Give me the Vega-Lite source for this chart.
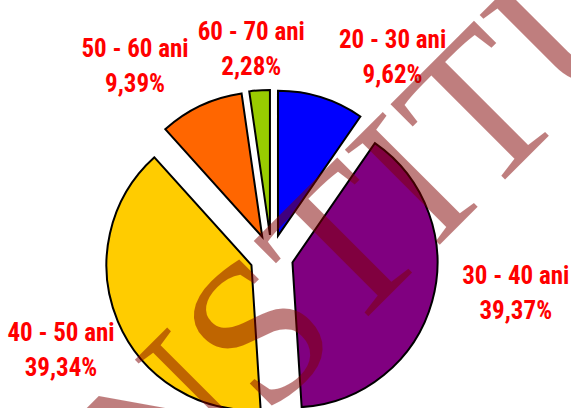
{
  "$schema": "https://vega.github.io/schema/vega-lite/v6.json",
  "width": 543,
  "height": 290,
  "autosize": {"type": "none"},
  "padding": {"left": 0, "top": 111.6, "right": 28, "bottom": 6.4},
  "background": "white",
  "config": {"view": {"stroke": null}},
  "datasets": {
    "ages": [
      {"group": "20 - 30 ani", "pct": 9.62},
      {"group": "30 - 40 ani", "pct": 39.37},
      {"group": "40 - 50 ani", "pct": 39.34},
      {"group": "50 - 60 ani", "pct": 9.39},
      {"group": "60 - 70 ani", "pct": 2.28}
    ]
  },
  "layer": [
    {
      "data": {"name": "ages"},
      "mark": {
        "type": "arc",
        "stroke": "black",
        "strokeWidth": 2,
        "strokeJoin": "miter",
        "xOffset": {"expr": "0.15*min(width,height)/2*sin(scale('theta',(datum.pct_start+datum.pct_end)/2))"},
        "yOffset": {"expr": "-0.15*min(width,height)/2*cos(scale('theta',(datum.pct_start+datum.pct_end)/2))"}
      },
      "encoding": {
        "theta": {"field": "pct", "type": "quantitative", "stack": true},
        "order": {"field": "group", "sort": "ascending"},
        "color": {
          "field": "group",
          "type": "nominal",
          "scale": {
            "domain": ["20 - 30 ani", "30 - 40 ani", "40 - 50 ani", "50 - 60 ani", "60 - 70 ani"],
            "range": ["#0000FF", "#800080", "#FFCC00", "#FF6600", "#99CC00"]
          },
          "legend": null
        }
      }
    },
    {
      "data": {"name": "ages"},
      "transform": [
        {"calculate": "[datum.group, replace(format(datum.pct, '.2f'), '.', ',') + '%']", "as": "label"}
      ],
      "mark": {
        "type": "text",
        "radius": 185,
        "font": "Roboto Condensed, Noto Sans Condensed, Liberation Sans Narrow, Arial Narrow, DejaVu Sans Condensed, sans-serif",
        "fontSize": 25,
        "fontWeight": "bold",
        "fill": "#FF0000",
        "lineHeight": 35,
        "align": "center",
        "baseline": "middle",
        "dx": {"expr": "sin(scale('theta',(datum.pct_start+datum.pct_end)/2)) > 0.25 ? 66 : sin(scale('theta',(datum.pct_start+datum.pct_end)/2)) < -0.6 ? -40 : sin(scale('theta',(datum.pct_start+datum.pct_end)/2)) < -0.25 ? -58 : -7"},
        "dy": {"expr": "cos(scale('theta',(datum.pct_start+datum.pct_end)/2)) > 0.3 ? -40 : cos(scale('theta',(datum.pct_start+datum.pct_end)/2)) < -0.3 ? 4.5 : -30.5"}
      },
      "encoding": {
        "theta": {"field": "pct", "type": "quantitative", "stack": true},
        "order": {"field": "group", "sort": "ascending"},
        "detail": {"field": "group", "type": "nominal"},
        "text": {"field": "label", "type": "nominal"}
      }
    },
    {
      "data": {"values": [{"wm": "INSTITUTUL"}]},
      "mark": {
        "type": "text",
        "font": "Liberation Serif",
        "fontSize": 205,
        "angle": -45,
        "align": "left",
        "baseline": "alphabetic",
        "dx": -335.5,
        "dy": 110.6,
        "fill": "#800000",
        "opacity": 0.5
      },
      "encoding": {
        "text": {"field": "wm", "type": "nominal"}
      }
    }
  ]
}
